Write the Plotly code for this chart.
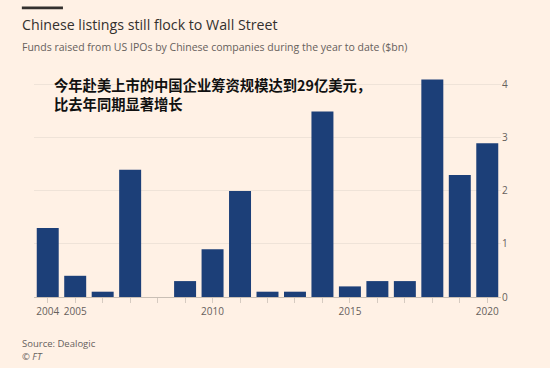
import plotly.graph_objects as go

years = list(range(2004, 2021))
funds_bn = [1.3, 0.4, 0.1, 2.4, 0.0, 0.3, 0.9, 2.0, 0.1, 0.1, 3.5, 0.2, 0.3, 0.3, 4.1, 2.3, 2.9]
x_tick_labels = ["2004", "2005", "", "", "", "", "2010", "", "", "", "", "2015", "", "", "", "", "2020"]
y_ticks = [0, 1, 2, 3, 4]

BG = "#FFF1E5"
BAR = "#1c3f78"
FONT = "Open Sans"

fig = go.Figure(go.Bar(x=years, y=funds_bn, marker=dict(color=BAR, line=dict(width=0)),
                       hoverinfo="x+y"))

fig.update_layout(
    width=550, height=368,
    paper_bgcolor=BG, plot_bgcolor=BG,
    margin=dict(l=34, r=49, t=69, b=71),
    bargap=0.2,
    showlegend=False,
    font=dict(family=FONT, color="#66605c", size=10),
    xaxis=dict(
        range=[2003.5, 2020.5],
        tickvals=years, ticktext=x_tick_labels,
        ticks="outside", ticklen=5, tickcolor="#d6cbc1", tickwidth=1,
        showgrid=False, showline=False, zeroline=False,
        tickfont=dict(size=10, color="#66605c"),
    ),
    yaxis=dict(
        side="right", range=[0, 4.3], tickvals=y_ticks,
        showgrid=True, gridcolor="#efe3d8", gridwidth=1,
        zeroline=True, zerolinecolor="#c9bfb5", zerolinewidth=1,
        showline=False, ticks="",
        tickfont=dict(size=10, color="#66605c"),
    ),
)

# short black rule above the title (FT style)
fig.add_shape(type="rect", xref="paper", yref="paper", x0=-0.026, x1=0.062, y0=1.262, y1=1.274,
              line=dict(width=0), fillcolor="#33302e")

fig.add_annotation(text="Chinese listings still flock to Wall Street", xref="paper", yref="paper",
                   x=-0.03, y=1.193, xanchor="left", yanchor="middle", showarrow=False,
                   font=dict(family=FONT, size=14.2, color="#33302e"))
fig.add_annotation(text="Funds raised from US IPOs by Chinese companies during the year to date ($bn)",
                   xref="paper", yref="paper", x=-0.03, y=1.096, xanchor="left", yanchor="middle",
                   showarrow=False, font=dict(family=FONT, size=10.5, color="#66605c"))
fig.add_annotation(text="<b>今年赴美上市的中国企业筹资规模达到29亿美元，<br>比去年同期显著增长</b>",
                   xref="paper", yref="paper", x=0.038, y=0.985, xanchor="left", yanchor="top",
                   align="left", showarrow=False,
                   font=dict(family="Noto Sans CJK SC", size=14.3, color="#111111"))
fig.add_annotation(text="Source: Dealogic", xref="paper", yref="paper", x=-0.03, y=-0.206,
                   xanchor="left", yanchor="middle", showarrow=False,
                   font=dict(family=FONT, size=9.5, color="#66605c"))
fig.add_annotation(text="<i>© FT</i>", xref="paper", yref="paper", x=-0.03, y=-0.263,
                   xanchor="left", yanchor="middle", showarrow=False,
                   font=dict(family=FONT, size=9.5, color="#66605c"))

fig.write_html("out.html", config={"displayModeBar": False},
               post_script="document.body.style.margin='0';")
